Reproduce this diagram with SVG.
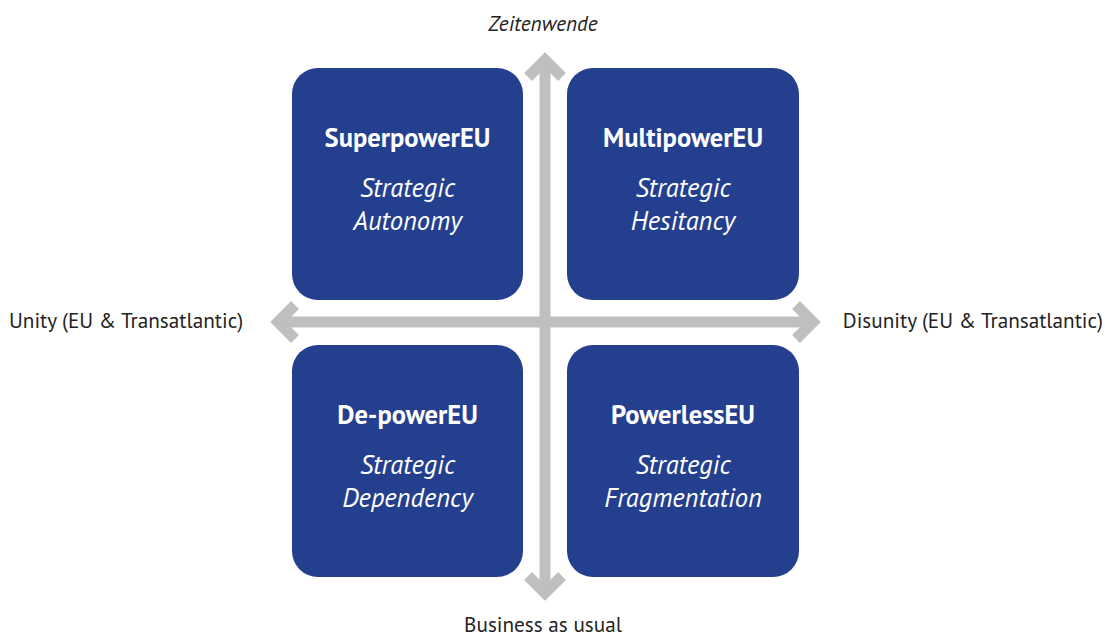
<svg xmlns="http://www.w3.org/2000/svg" width="1105" height="634" viewBox="0 0 1105 634">
<style>
.box{fill:#253F8F}
.ttl{font-family:"PT Sans","Noto Sans","Liberation Sans",sans-serif;font-weight:bold;font-size:26.5px;fill:#fff;text-anchor:middle}
.sub{font-family:"PT Sans","Noto Sans","Liberation Sans",sans-serif;font-style:italic;font-size:26.5px;fill:#fff;text-anchor:middle}
.lbl{font-family:"PT Sans","Noto Sans","Liberation Sans",sans-serif;font-size:21.2px;fill:#222}
.ax{fill:none;stroke:#BFBFBF;stroke-width:11;stroke-linejoin:miter;stroke-linecap:butt}
</style>
<rect width="1105" height="634" fill="#fff"/>
<g id="connectors">
<line class="ax" x1="545" y1="58" x2="545" y2="595"/>
<line class="ax" x1="276" y1="322" x2="815" y2="322"/>
<polyline class="ax" points="528,77 545,60 562,77"/>
<polyline class="ax" points="528,576 545,593 562,576"/>
<polyline class="ax" points="295,305 278,322 295,339"/>
<polyline class="ax" points="796,305 813,322 796,339"/>
</g>
<g id="node-superpower">
<rect class="box" x="292" y="68" width="231" height="232" rx="26"/>
<text class="ttl" x="407.5" y="147">SuperpowerEU</text>
<text class="sub" x="407.5" y="197">Strategic</text>
<text class="sub" x="407.5" y="230">Autonomy</text>
</g>
<g id="node-multipower">
<rect class="box" x="567" y="68" width="232" height="232" rx="26"/>
<text class="ttl" x="683" y="147">MultipowerEU</text>
<text class="sub" x="683" y="197">Strategic</text>
<text class="sub" x="683" y="230">Hesitancy</text>
</g>
<g id="node-depower">
<rect class="box" x="292" y="345" width="231" height="232" rx="26"/>
<text class="ttl" x="407.5" y="424">De-powerEU</text>
<text class="sub" x="407.5" y="474">Strategic</text>
<text class="sub" x="407.5" y="507">Dependency</text>
</g>
<g id="node-powerless">
<rect class="box" x="567" y="345" width="232" height="232" rx="26"/>
<text class="ttl" x="683" y="424">PowerlessEU</text>
<text class="sub" x="683" y="474">Strategic</text>
<text class="sub" x="683" y="507">Fragmentation</text>
</g>
<g id="labels">
<text class="lbl" x="543" y="31" text-anchor="middle" font-style="italic">Zeitenwende</text>
<text class="lbl" x="543" y="632" text-anchor="middle">Business as usual</text>
<text class="lbl" x="9" y="328">Unity (EU &amp; Transatlantic)</text>
<text class="lbl" x="1103" y="328" text-anchor="end">Disunity (EU &amp; Transatlantic)</text>
</g>
</svg>
